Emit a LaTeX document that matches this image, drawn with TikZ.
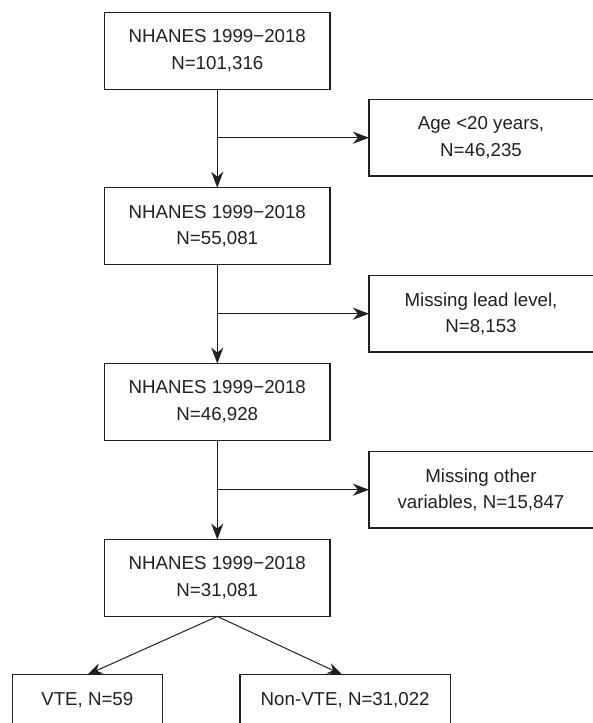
\documentclass[tikz,border=0pt]{standalone}
\usepackage{fontspec}
\setmainfont{Liberation Sans}
\usetikzlibrary{arrows.meta}
\definecolor{ink}{HTML}{231F20}
\begin{document}
\begin{tikzpicture}[x=1pt,y=-1pt,
  every node/.style={inner sep=0pt,outer sep=0pt},
  mainbox/.style={draw=ink,line width=1.2pt,text=ink,align=center,minimum width=225.5pt,minimum height=76.8pt,
    font=\fontsize{18.7}{26.7}\selectfont},
  sidebox/.style={text=ink,align=center,minimum width=224pt,minimum height=76.7pt,
    font=\fontsize{18.7}{26.2}\selectfont},
  sideframe/.style={draw=ink,line width=1.2pt},
  endbox/.style={draw=ink,line width=1.2pt,text=ink,align=center,minimum height=51.6pt,
    font=\fontsize{18.7}{26.2}\selectfont},
  arr/.style={draw=ink,line width=1.2pt,-{Stealth[length=16pt,width=12pt,inset=5pt]}},
  darr/.style={draw=ink,line width=1pt,-{Stealth[length=15pt,width=11pt,inset=5pt]}}]
\useasboundingbox (0,0) rectangle (593,723);
\clip (0,0) rectangle (593,723);
\fill[white] (0,0) rectangle (593,723);
\node[mainbox] (b1) at (217.3,50.8) {NHANES 1999−2018\\N=101,316};
\node[mainbox] (b2) at (217.3,226.2) {NHANES 1999−2018\\N=55,081};
\node[mainbox] (b3) at (217.3,402.0) {NHANES 1999−2018\\N=46,928};
\node[mainbox] (b4) at (217.3,578.0) {NHANES 1999−2018\\N=31,081};
\node[sidebox] (s1) at (481,137.7) {Age <20 years,\\N=46,235};
\node[sidebox] (s2) at (481,313.7) {Missing lead level,\\N=8,153};
\node[sidebox] (s3) at (481,489.7) {Missing other\\variables, N=15,847};
\draw[sideframe] (s1.north west) rectangle ([xshift=12pt]s1.south east);
\draw[sideframe] (s2.north west) rectangle ([xshift=12pt]s2.south east);
\draw[sideframe] (s3.north west) rectangle ([xshift=12pt]s3.south east);
\node[endbox,minimum width=150pt] (v1) at (87.3,700.5) {VTE, N=59};
\node[endbox,minimum width=210.5pt] (v2) at (345.2,700.5) {Non-VTE, N=31,022};
\draw[arr] (b1.south) -- (b2.north);
\draw[arr] (b2.south) -- (b3.north);
\draw[arr] (b3.south) -- (b4.north);
\draw[arr] (b1.south |- s1.west) -- (s1.west);
\draw[arr] (b2.south |- s2.west) -- (s2.west);
\draw[arr] (b3.south |- s3.west) -- (s3.west);
\draw[darr] (b4.south) -- (v1.north);
\draw[darr] (b4.south) -- ([xshift=-3pt]v2.north);
\end{tikzpicture}
\end{document}
